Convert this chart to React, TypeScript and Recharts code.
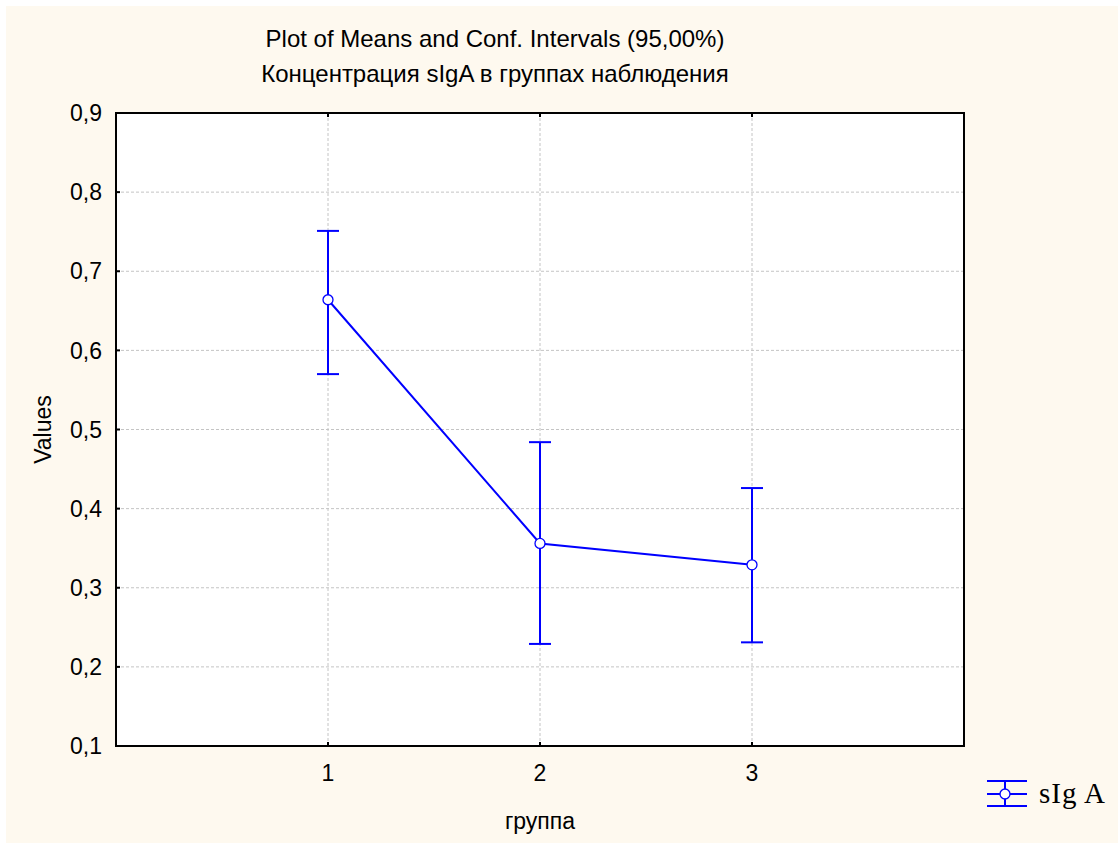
import React from 'react';
import { LineChart, Line, XAxis, YAxis, CartesianGrid, ErrorBar, ReferenceArea } from 'recharts';

// group means with 95% confidence limits
const groups = [1, 2, 3];
const means = [0.664, 0.356, 0.329];
const lowerCI = [0.57, 0.229, 0.231];
const upperCI = [0.751, 0.484, 0.426];
const yTicks = [0.1, 0.2, 0.3, 0.4, 0.5, 0.6, 0.7, 0.8, 0.9];
const xTicks = [1, 2, 3];

const data = groups.map((g, i) => ({
  group: g,
  mean: means[i],
  err: [means[i] - lowerCI[i], upperCI[i] - means[i]],
}));

const BLUE = '#0000FF';
const FONT = '"Liberation Sans", Arial, sans-serif';
const fmt = (v: number) => v.toFixed(1).replace('.', ',');

const App: React.FC = () => {
  return (
    <div style={{ position: 'relative', width: 1118, height: 843, background: '#fff', fontFamily: FONT }}>
      <style>{'body{margin:0}'}</style>
      <div style={{ position: 'absolute', left: 6, top: 6, width: 1112, height: 837, background: '#FEF9EF' }} />
      <div style={{ position: 'absolute', left: 0, top: 0 }}>
        <LineChart width={1118} height={843} data={data} margin={{ top: 112, right: 153, bottom: 0, left: 0 }}>
          <CartesianGrid fill="#fff" stroke="#c4c4c4" strokeDasharray="3 2" />
          <XAxis
            dataKey="group"
            type="number"
            domain={[0, 4]}
            ticks={xTicks}
            height={97}
            tickSize={-4}
            tickMargin={23}
            tickLine={{ stroke: '#000', strokeWidth: 2 }}
            axisLine={{ stroke: '#000', strokeWidth: 2 }}
            tick={{ fill: '#000', fontSize: 23, fontFamily: FONT }}
            label={{ value: 'группа', position: 'insideBottom', offset: 14, fill: '#000', fontSize: 23, fontFamily: FONT }}
          />
          <XAxis
            xAxisId="top"
            orientation="top"
            dataKey="group"
            type="number"
            domain={[0, 4]}
            ticks={xTicks}
            height={1}
            tickSize={-4}
            tickFormatter={() => ''}
            tickLine={{ stroke: '#000', strokeWidth: 2 }}
            axisLine={{ stroke: '#000', strokeWidth: 2 }}
          />
          <YAxis
            type="number"
            domain={[0.1, 0.9]}
            ticks={yTicks}
            width={116}
            tickSize={-4}
            tickMargin={18}
            tickFormatter={fmt}
            tickLine={{ stroke: '#000', strokeWidth: 2 }}
            axisLine={{ stroke: '#000', strokeWidth: 2 }}
            tick={{ fill: '#000', fontSize: 23, fontFamily: FONT }}
            label={{ value: 'Values', angle: -90, position: 'center', dx: -15, fill: '#000', fontSize: 23, fontFamily: FONT }}
          />
          <YAxis
            yAxisId="right"
            orientation="right"
            type="number"
            domain={[0.1, 0.9]}
            ticks={yTicks}
            width={1}
            tickSize={-4}
            tickFormatter={() => ''}
            tickLine={{ stroke: '#000', strokeWidth: 2 }}
            axisLine={{ stroke: '#000', strokeWidth: 2 }}
          />
          <ReferenceArea x1={0} x2={4} y1={0.1} y2={0.9} fill="none" stroke="#000" strokeWidth={2} ifOverflow="visible" />
          <Line
            dataKey="mean"
            stroke={BLUE}
            strokeWidth={2}
            isAnimationActive={false}
            dot={{ r: 5, fill: '#fff', stroke: BLUE, strokeWidth: 1.3 }}
            activeDot={false}
          >
            <ErrorBar dataKey="err" direction="y" width={11} stroke={BLUE} strokeWidth={2} isAnimationActive={false} />
          </Line>
        </LineChart>
      </div>
      <div style={{ position: 'absolute', left: 0, width: 990, top: 27, textAlign: 'center', fontSize: 24, lineHeight: 1, color: '#000' }}>
        Plot of Means and Conf. Intervals (95,00%)
      </div>
      <div style={{ position: 'absolute', left: 0, width: 990, top: 62, textAlign: 'center', fontSize: 24, lineHeight: 1, color: '#000' }}>
        Концентрация sIgA в группах наблюдения
      </div>
      <svg style={{ position: 'absolute', left: 985, top: 776 }} width={44} height={36}>
        <line x1={2} x2={42} y1={5} y2={5} stroke={BLUE} strokeWidth={2} />
        <line x1={2} x2={42} y1={18} y2={18} stroke={BLUE} strokeWidth={2} />
        <line x1={2} x2={42} y1={30} y2={30} stroke={BLUE} strokeWidth={2} />
        <line x1={20} x2={20} y1={5} y2={30} stroke={BLUE} strokeWidth={2} />
        <circle cx={20} cy={18} r={5} fill="#fff" stroke={BLUE} strokeWidth={1.3} />
      </svg>
      <div style={{ position: 'absolute', left: 1039, top: 779, fontSize: 29, letterSpacing: 1, lineHeight: 1, fontFamily: '"Liberation Serif", "Times New Roman", serif', color: '#000' }}>
        sIg A
      </div>
    </div>
  );
};

export default App;
